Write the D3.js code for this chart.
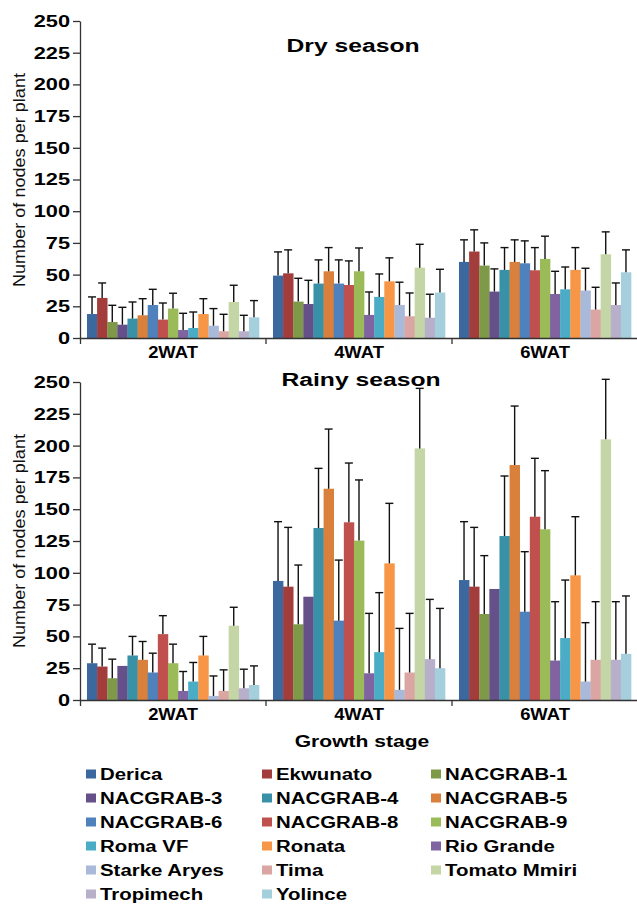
<!DOCTYPE html>
<html>
<head>
<meta charset="utf-8">
<script src="https://cdn.jsdelivr.net/npm/d3@7/dist/d3.min.js"></script>
<style>
  html, body { margin: 0; padding: 0; background: #fff; }
  svg { display: block; }
</style>
</head>
<body>
<svg id="chart" width="637" height="904"></svg>
<script>
// ---------- DATA ----------
const stages = ["2WAT", "4WAT", "6WAT"];
const varieties = ["Derica", "Ekwunato", "NACGRAB-1", "NACGRAB-3", "NACGRAB-4", "NACGRAB-5",
  "NACGRAB-6", "NACGRAB-8", "NACGRAB-9", "Rio Grande", "Roma VF", "Ronata",
  "Starke Aryes", "Tima", "Tomato Mmiri", "Tropimech", "Yolince"];
const colors = ["#3C68A0", "#A33D3B", "#7E9948", "#65508A", "#3891A7", "#D8803C",
  "#4F81BD", "#C0504D", "#9BBB59", "#8064A2", "#4BACC6", "#F79646",
  "#A9B9DA", "#DBA5A4", "#C5D6A6", "#B8AFCB", "#A5CFDC"];
const legendOrder = ["Derica", "Ekwunato", "NACGRAB-1", "NACGRAB-3", "NACGRAB-4", "NACGRAB-5",
  "NACGRAB-6", "NACGRAB-8", "NACGRAB-9", "Roma VF", "Ronata", "Rio Grande",
  "Starke Aryes", "Tima", "Tomato Mmiri", "Tropimech", "Yolince"];
const yTicks = [0, 25, 50, 75, 100, 125, 150, 175, 200, 225, 250];

// Dry season means (per variety, in bar order)
const dry2WAT = [18.9, 31.6, 12.6, 10.5, 15.3, 17.9, 26.0, 14.5, 23.2, 6.3, 7.9, 18.9, 9.7, 5.3, 28.4, 5.3, 16.3];
const dry4WAT = [49.2, 51.0, 28.7, 26.8, 42.9, 52.6, 42.9, 41.8, 52.6, 18.2, 32.4, 44.7, 26.0, 17.1, 55.5, 16.0, 35.8];
const dry6WAT = [60.0, 68.2, 57.1, 36.6, 53.7, 60.0, 58.9, 53.4, 62.4, 34.7, 38.4, 53.7, 37.4, 22.4, 66.0, 26.0, 51.8];
// Dry season error (upper bar length)
const dryErr2WAT = [13.5, 11.8, 13.2, 13.7, 13.1, 13.1, 12.4, 13.1, 12.1, 13.2, 12.6, 12.1, 13.5, 13.4, 13.2, 12.6, 13.2];
const dryErr4WAT = [18.7, 18.5, 18.4, 18.7, 18.7, 18.7, 18.7, 19.0, 18.4, 18.1, 18.1, 18.5, 18.0, 18.4, 18.4, 18.5, 18.4];
const dryErr6WAT = [17.4, 17.1, 17.9, 17.9, 17.6, 17.4, 17.7, 17.9, 17.9, 17.9, 17.6, 17.6, 17.6, 17.6, 17.7, 17.4, 17.7];

// Rainy season means
const rainy2WAT = [28.9, 26.3, 17.1, 26.8, 35.0, 31.6, 21.6, 51.8, 28.9, 7.1, 14.5, 35.0, 3.2, 7.1, 58.4, 9.2, 11.8];
const rainy4WAT = [93.6, 89.1, 59.5, 81.2, 135.2, 166.1, 62.4, 139.7, 125.3, 21.0, 37.6, 107.4, 8.0, 21.6, 197.8, 32.1, 25.0];
const rainy6WAT = [94.3, 89.1, 67.6, 87.3, 128.9, 184.7, 69.4, 144.1, 134.2, 31.0, 48.7, 98.0, 14.5, 31.6, 204.9, 31.6, 36.3];
// Rainy season error
const rainyErr2WAT = [15.0, 14.5, 15.0, 0, 15.0, 14.4, 15.2, 14.5, 15.0, 15.3, 15.0, 15.0, 15.7, 16.6, 14.5, 15.0, 15.0];
const rainyErr4WAT = [46.6, 46.6, 46.6, 0, 46.9, 46.9, 47.6, 46.6, 47.7, 47.1, 46.8, 47.2, 48.3, 46.5, 47.2, 47.0, 47.0];
const rainyErr6WAT = [45.9, 46.6, 45.9, 0, 47.2, 46.4, 47.2, 45.9, 46.1, 46.3, 45.6, 46.1, 46.3, 45.7, 47.2, 45.7, 45.5];

// ---------- LAYOUT ----------
const svg = d3.select("#chart");
const FONT = "'Liberation Sans', Arial, sans-serif";
const plotLeft = 80, plotRight = 638;

const panels = [
  { title: "Dry season", means: [dry2WAT, dry4WAT, dry6WAT], errs: [dryErr2WAT, dryErr4WAT, dryErr6WAT], top: 21, bottom: 338, titleY: 52, titleX: 353, yTitleY: 180 },
  { title: "Rainy season", means: [rainy2WAT, rainy4WAT, rainy6WAT], errs: [rainyErr2WAT, rainyErr4WAT, rainyErr6WAT], top: 382, bottom: 700, titleY: 386, titleX: 361, yTitleY: 541 }
];

const color = d3.scaleOrdinal().domain(varieties).range(colors);
const xBand = d3.scaleBand().domain(stages).range([plotLeft, plotRight])
  .paddingInner(0.075).paddingOuter(0.0375);
const xInner = d3.scaleBand().domain(varieties).range([0, xBand.bandwidth()]).padding(0);

function stretch(sel, sx) {
  sel.each(function () {
    const t = d3.select(this);
    const x = +t.attr("x") || 0, y = +t.attr("y") || 0;
    t.attr("x", 0).attr("y", 0)
      .attr("transform", `translate(${x},${y}) scale(${sx},1)`);
  });
}

panels.forEach(p => {
  const y = d3.scaleLinear().domain([0, 250]).range([p.bottom, p.top]);
  const g = svg.append("g");

  const rows = [];
  stages.forEach((s, i) => {
    varieties.forEach((v, j) => {
      rows.push({ stage: s, variety: v, mean: p.means[i][j], err: p.errs[i][j] });
    });
  });

  // bars
  g.append("g").selectAll("rect").data(rows).join("rect")
    .attr("x", d => xBand(d.stage) + xInner(d.variety))
    .attr("width", xInner.bandwidth() + 0.3)
    .attr("y", d => y(d.mean))
    .attr("height", d => y(0) - y(d.mean))
    .attr("fill", d => color(d.variety));

  // error bars (upper half only)
  const eg = g.append("g").attr("stroke", "#111").attr("stroke-width", 1.4);
  const withErr = rows.filter(d => d.err > 0);
  const cx = d => xBand(d.stage) + xInner(d.variety) + xInner.bandwidth() / 2;
  eg.selectAll("line.v").data(withErr).join("line").attr("class", "v")
    .attr("x1", cx).attr("x2", cx)
    .attr("y1", d => y(d.mean)).attr("y2", d => y(d.mean + d.err));
  eg.selectAll("line.c").data(withErr).join("line").attr("class", "c")
    .attr("x1", d => cx(d) - 4).attr("x2", d => cx(d) + 4)
    .attr("y1", d => y(d.mean + d.err)).attr("y2", d => y(d.mean + d.err));

  // y axis
  const ya = g.append("g").attr("transform", `translate(${plotLeft},0)`)
    .call(d3.axisLeft(y).tickValues(yTicks).tickSize(7).tickPadding(3).tickSizeOuter(0));
  ya.select(".domain").attr("stroke", "#333").attr("stroke-width", 1.3);
  ya.selectAll(".tick line").attr("stroke", "#333").attr("stroke-width", 1.3);
  ya.selectAll("text").attr("font-family", FONT).attr("font-size", 17)
    .attr("font-weight", "bold").attr("fill", "#000");
  stretch(ya.selectAll("text"), 1.28);

  // x axis
  const xa = g.append("g").attr("transform", `translate(0,${p.bottom})`)
    .call(d3.axisBottom(xBand).tickSize(0).tickPadding(9).tickSizeOuter(6));
  xa.select(".domain").attr("stroke", "#333").attr("stroke-width", 1.3);
  xa.selectAll("text").attr("font-family", FONT).attr("font-size", 16)
    .attr("font-weight", "bold").attr("fill", "#000");
  stretch(xa.selectAll("text"), 1.15);
  const gap = (xBand.step() - xBand.bandwidth()) / 2;
  xa.selectAll("line.sep").data(stages.slice(1)).join("line").attr("class", "sep")
    .attr("x1", s => xBand(s) - gap).attr("x2", s => xBand(s) - gap)
    .attr("y1", 0).attr("y2", 6)
    .attr("stroke", "#333").attr("stroke-width", 1.3);

  // panel title
  const tt = g.append("text").attr("x", p.titleX).attr("y", p.titleY)
    .attr("text-anchor", "middle").attr("font-family", FONT).attr("font-size", 19)
    .attr("font-weight", "bold").attr("fill", "#000").text(p.title);
  stretch(tt, 1.3);

  // y title
  g.append("text")
    .attr("transform", `translate(25,${p.yTitleY}) rotate(-90) scale(1.13,1)`)
    .attr("text-anchor", "middle").attr("font-family", FONT).attr("font-size", 16)
    .attr("fill", "#111").text("Number of nodes per plant");
});

// x-axis title
const xt = svg.append("text").attr("x", 362).attr("y", 747).attr("text-anchor", "middle")
  .attr("font-family", FONT).attr("font-size", 17).attr("font-weight", "bold")
  .attr("fill", "#000").text("Growth stage");
stretch(xt, 1.24);

// legend (3 columns, row-major)
const colX = [86, 262, 431];
const rowY0 = 774, rowStep = 24;
const lg = svg.append("g");
const items = lg.selectAll("g").data(legendOrder).join("g")
  .attr("transform", (d, i) => `translate(${colX[i % 3]},${rowY0 + Math.floor(i / 3) * rowStep})`);
items.append("rect").attr("x", 0).attr("y", -4.5).attr("width", 10).attr("height", 9)
  .attr("fill", d => color(d));
const lt = items.append("text").attr("x", 14).attr("y", 6)
  .attr("font-family", FONT).attr("font-size", 17).attr("font-weight", "bold")
  .attr("fill", "#000").text(d => d);
stretch(lt, 1.2);
</script>
</body>
</html>
